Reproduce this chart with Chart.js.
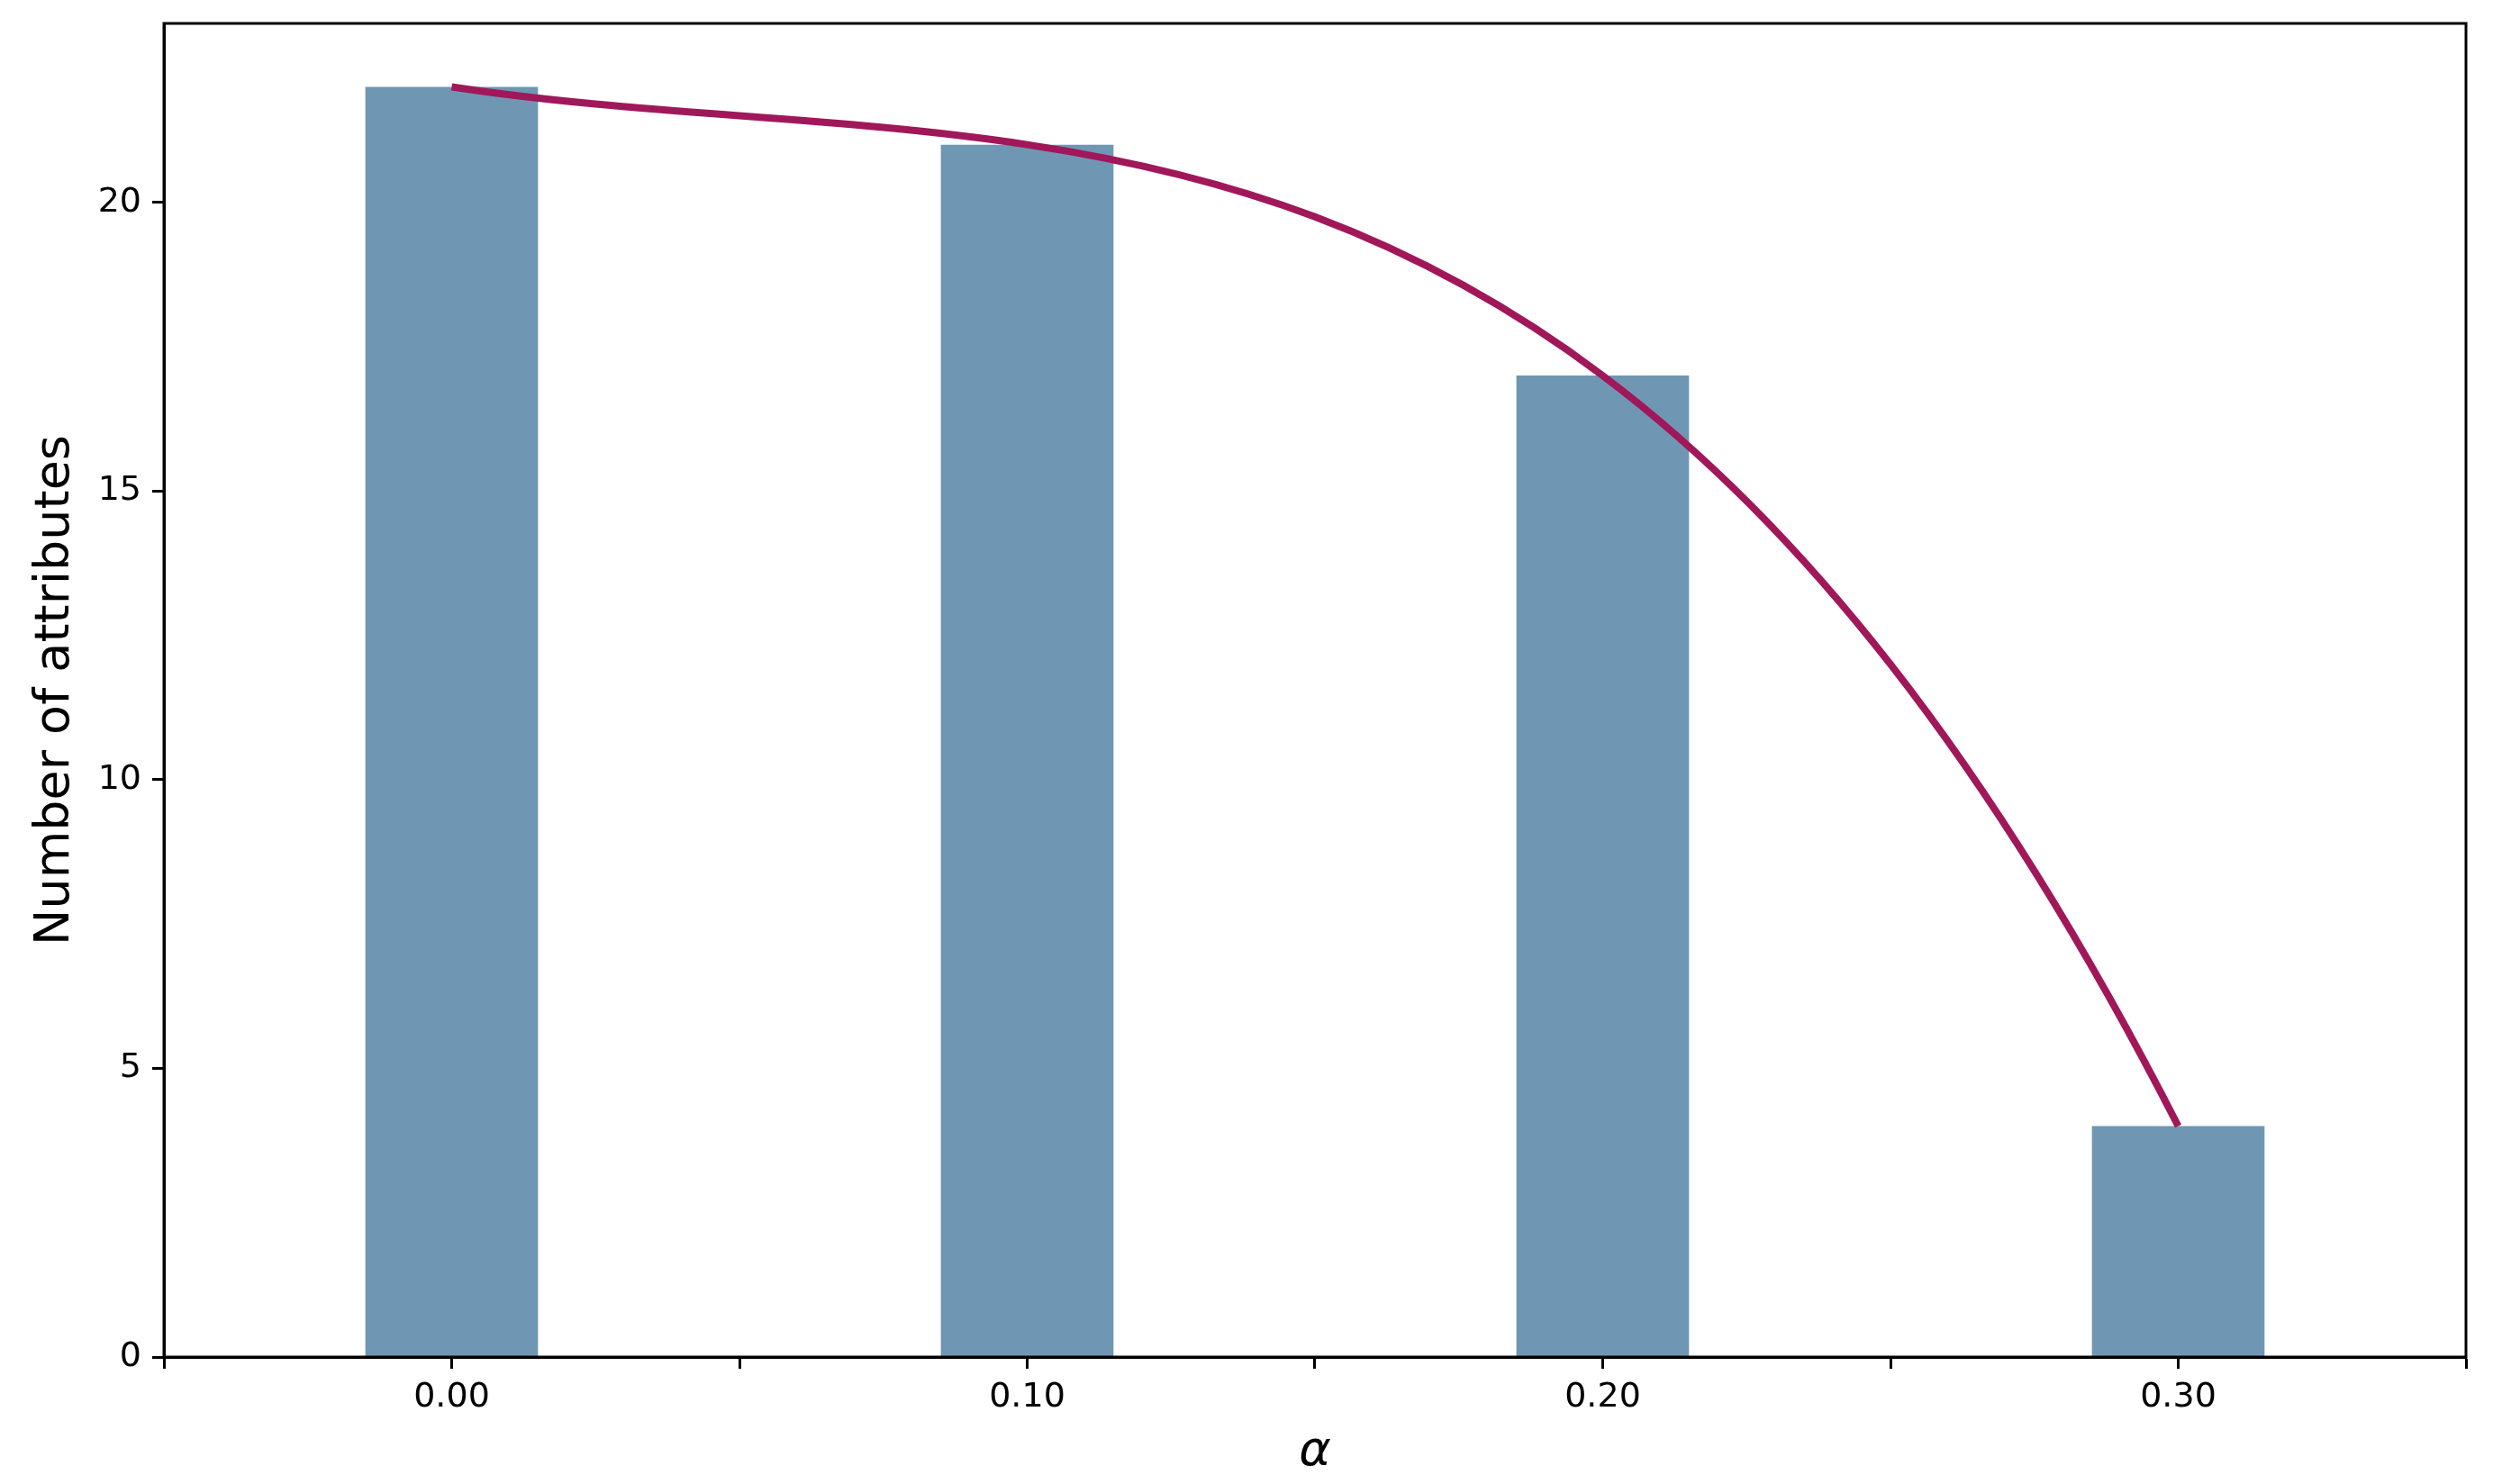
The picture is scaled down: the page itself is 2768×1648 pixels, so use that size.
<!DOCTYPE html>
<html>
<head>
<meta charset="utf-8">
<script src="https://cdn.jsdelivr.net/npm/chart.js@4.4.0/dist/chart.umd.min.js"></script>
<style>
  html, body { margin: 0; padding: 0; background: #fff; }
  #wrap { width: 2768px; height: 1648px; }
</style>
</head>
<body>
<div id="wrap"><canvas id="chart" width="2768" height="1648"></canvas></div>
<script>
// values
const alphas = [0.00, 0.10, 0.20, 0.30];
const attributeCounts = [22, 21, 17, 4];
const xTickLabels = ['', '0.00', '', '0.10', '', '0.20', '', '0.30', ''];
const yTickStep = 5;
const xLimits = [-0.05, 0.35];
const yLimits = [0, 23.1];

const barColor = '#6f97b3';
const lineColor = '#a0185a';

// derivative of the cubic through the data points (like a degree-3 spline through 4 points)
function polyDeriv(xs, ys, x) {
  let d = 0;
  for (let j = 0; j < xs.length; j++) {
    let sum = 0;
    for (let m = 0; m < xs.length; m++) {
      if (m === j) continue;
      let term = 1 / (xs[j] - xs[m]);
      for (let k = 0; k < xs.length; k++) {
        if (k === j || k === m) continue;
        term *= (x - xs[k]) / (xs[j] - xs[k]);
      }
      sum += term;
    }
    d += ys[j] * sum;
  }
  return d;
}

// put the bezier handles on the smooth curve
const smoothCurve = {
  id: 'smoothCurve',
  beforeDatasetDraw(chart, args) {
    const meta = args.meta;
    if (meta.type !== 'line') return;
    const xs = chart.scales.x, ys = chart.scales.y;
    const pts = meta.data;
    for (let i = 0; i < pts.length; i++) {
      const slope = polyDeriv(alphas, attributeCounts, alphas[i]);
      if (i < pts.length - 1) {
        const h = (alphas[i + 1] - alphas[i]) / 3;
        pts[i].cp2x = xs.getPixelForValue(alphas[i] + h);
        pts[i].cp2y = ys.getPixelForValue(attributeCounts[i] + slope * h);
      }
      if (i > 0) {
        const h = (alphas[i] - alphas[i - 1]) / 3;
        pts[i].cp1x = xs.getPixelForValue(alphas[i] - h);
        pts[i].cp1y = ys.getPixelForValue(attributeCounts[i] - slope * h);
      }
    }
    meta.dataset._pointsUpdated = true;
    meta.dataset._path = undefined;
  }
};

// box around the axes
const frame = {
  id: 'frame',
  afterDraw(chart) {
    const a = chart.chartArea, ctx = chart.ctx;
    ctx.save();
    ctx.strokeStyle = '#000';
    ctx.lineWidth = 3;
    ctx.strokeRect(a.left, a.top, a.right - a.left, a.bottom - a.top);
    ctx.restore();
  }
};

new Chart(document.getElementById('chart'), {
  type: 'bar',
  data: {
    datasets: [
      {
        type: 'line',
        data: alphas.map((a, i) => ({ x: a, y: attributeCounts[i] })),
        borderColor: lineColor,
        borderWidth: 8,
        pointRadius: 0,
        tension: 0.4,
        fill: false,
        order: 0
      },
      {
        type: 'bar',
        data: alphas.map((a, i) => ({ x: a, y: attributeCounts[i] })),
        backgroundColor: barColor,
        borderWidth: 0,
        barPercentage: 0.6,
        categoryPercentage: 1,
        order: 1
      }
    ]
  },
  plugins: [smoothCurve, frame],
  options: {
    responsive: false,
    animation: false,
    devicePixelRatio: 1,
    layout: { padding: { top: 26, right: 30, left: 0, bottom: 0 } },
    plugins: { legend: { display: false }, tooltip: { enabled: false } },
    scales: {
      x: {
        type: 'linear',
        min: xLimits[0],
        max: xLimits[1],
        offset: false,
        afterFit(scale) { scale.height = 141; scale.paddingLeft = 0; scale.paddingRight = 0; },
        grid: { offset: false, drawOnChartArea: false, drawTicks: true, tickLength: 13, tickWidth: 3, tickColor: '#000' },
        border: { display: true, color: '#000', width: 3 },
        ticks: {
          stepSize: 0.05,
          autoSkip: false,
          maxRotation: 0,
          padding: 9,
          color: '#000',
          font: { family: 'DejaVu Sans', size: 38 },
          callback: (v, i) => xTickLabels[i]
        },
        title: {
          display: true,
          text: 'α',
          color: '#000',
          font: { family: 'DejaVu Sans', size: 54, style: 'italic' },
          padding: { top: 0, bottom: 3 }
        }
      },
      y: {
        min: yLimits[0],
        max: yLimits[1],
        afterFit(scale) { scale.width = 182; scale.paddingTop = 0; scale.paddingBottom = 0; },
        grid: { drawOnChartArea: false, drawTicks: true, tickLength: 13, tickWidth: 3, tickColor: '#000' },
        border: { display: true, color: '#000', width: 3 },
        ticks: {
          stepSize: yTickStep,
          includeBounds: false,
          padding: 12,
          color: '#000',
          font: { family: 'DejaVu Sans', size: 38 }
        },
        title: {
          display: true,
          text: 'Number of attributes',
          color: '#000',
          font: { family: 'DejaVu Sans', size: 54 },
          padding: { top: 30, bottom: 0 }
        }
      }
    }
  }
});
</script>
</body>
</html>
